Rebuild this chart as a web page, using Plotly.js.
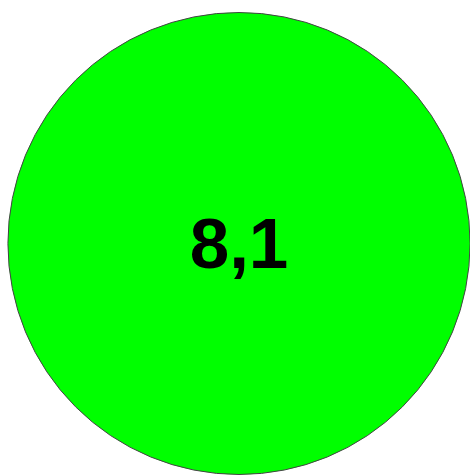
<!DOCTYPE html>
<html>
<head>
<meta charset="utf-8">
<script src="https://cdn.plot.ly/plotly-3.0.1.min.js"></script>
<style>html,body{margin:0;padding:0;background:#fff;}#chart{width:470px;height:476px;}</style>
</head>
<body>
<div id="chart"></div>
<script>
var labels = ["Value"];
var values = [8.1];
var colors = ["#00ff00"];

var trace = {
  type: "pie",
  labels: labels,
  values: values,
  marker: {colors: colors, line: {color: "#444444", width: 1}},
  texttemplate: "%{value}",
  textposition: "inside",
  insidetextfont: {family: "Liberation Sans, Arial, sans-serif", size: 71, color: "#000000", weight: "bold"},
  hoverinfo: "none",
  sort: false,
  showlegend: false,
  domain: {x: [8/470, 1], y: [1.5/476, 463.5/476]}
};

Plotly.newPlot("chart", [trace], {
  width: 470, height: 476,
  margin: {l: 0, r: 0, t: 0, b: 0},
  separators: ",.",
  paper_bgcolor: "#ffffff",
  showlegend: false
}, {displayModeBar: false, staticPlot: true});
</script>
</body>
</html>
